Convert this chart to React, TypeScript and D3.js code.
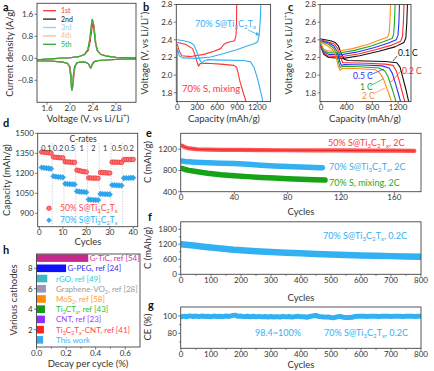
import React from 'react';
import * as d3 from 'd3';

type P = [number, number];
const FONT = 'Lato, "Open Sans", sans-serif';
const AX = '#444';
const TXT = '#333';
const RED = '#ff3333';
const BLUE = '#33b0f2';
const TICK = 8;
const TITLE = 9.5;
const NOTE = 9;

// ---------- panel a: CV data ----------
const cvFirst: P[] = [
  [3.14, -0.02], [2.9, -0.03], [2.7, -0.05], [2.5, -0.08], [2.43, -0.12], [2.4, -0.2], [2.38, -0.28], [2.365, -0.33], [2.35, -0.3], [2.32, -0.2], [2.27, -0.14], [2.2, -0.13], [2.13, -0.16], [2.09, -0.3], [2.07, -0.6], [2.055, -0.95], [2.045, -1.08], [2.035, -1.0], [2.02, -0.6], [2.0, -0.3], [1.96, -0.18], [1.86, -0.13], [1.7, -0.11], [1.55, -0.1], [1.43, -0.09],
  [1.43, -0.06], [1.6, -0.04], [1.8, -0.01], [2.0, 0.02], [2.15, 0.06], [2.26, 0.14], [2.32, 0.3], [2.35, 0.6], [2.38, 1.05], [2.4, 1.27], [2.415, 1.22], [2.43, 0.95], [2.45, 0.55], [2.48, 0.28], [2.54, 0.14], [2.64, 0.08], [2.8, 0.04], [3.0, 0.02], [3.14, 0.02],
];
const cvSecond: P[] = [
  [3.14, -0.02], [2.9, -0.03], [2.7, -0.05], [2.5, -0.08], [2.42, -0.12], [2.39, -0.2], [2.375, -0.29], [2.36, -0.35], [2.345, -0.31], [2.32, -0.2], [2.27, -0.14], [2.2, -0.13], [2.12, -0.16], [2.08, -0.3], [2.06, -0.6], [2.045, -1.0], [2.035, -1.15], [2.025, -1.05], [2.01, -0.6], [1.99, -0.3], [1.95, -0.18], [1.85, -0.13], [1.7, -0.11], [1.55, -0.1], [1.43, -0.09],
  [1.43, -0.05], [1.6, -0.03], [1.8, 0.0], [2.0, 0.02], [2.15, 0.06], [2.25, 0.14], [2.31, 0.3], [2.345, 0.65], [2.37, 1.1], [2.39, 1.32], [2.405, 1.28], [2.42, 1.0], [2.44, 0.6], [2.47, 0.3], [2.53, 0.15], [2.63, 0.08], [2.8, 0.04], [3.0, 0.02], [3.14, 0.02],
];
const cvLater: P[] = [
  [3.14, -0.02], [2.9, -0.03], [2.7, -0.05], [2.5, -0.08], [2.42, -0.12], [2.39, -0.2], [2.375, -0.3], [2.36, -0.36], [2.345, -0.32], [2.32, -0.2], [2.27, -0.14], [2.2, -0.13], [2.12, -0.16], [2.08, -0.3], [2.06, -0.62], [2.045, -1.02], [2.035, -1.17], [2.025, -1.06], [2.01, -0.6], [1.99, -0.3], [1.95, -0.18], [1.85, -0.13], [1.7, -0.11], [1.55, -0.1], [1.43, -0.09],
  [1.43, -0.05], [1.6, -0.03], [1.8, 0.0], [2.0, 0.02], [2.15, 0.06], [2.25, 0.14], [2.31, 0.32], [2.345, 0.72], [2.37, 1.2], [2.385, 1.42], [2.4, 1.35], [2.415, 1.05], [2.44, 0.6], [2.47, 0.3], [2.53, 0.15], [2.63, 0.08], [2.8, 0.04], [3.0, 0.02], [3.14, 0.02],
];
const cvNames = ['1st', '2nd', '3rd', '4th', '5th'];
const cvColors = ['#ff3333', '#222222', '#8fd0ff', '#f2c47a', '#2ea82e'];

// ---------- panel b ----------
const bMixDis: P[] = [[0, 2.37], [120, 2.35], [230, 2.3], [270, 2.22], [300, 2.14], [320, 2.1], [340, 2.13], [450, 2.135], [650, 2.125], [850, 2.11], [890, 2.09], [910, 2.03], [940, 1.93], [990, 1.8], [1040, 1.68]];
const bMixCha: P[] = [[0, 2.35], [30, 2.27], [70, 2.22], [200, 2.21], [400, 2.235], [550, 2.27], [650, 2.3], [700, 2.35], [750, 2.37], [860, 2.39], [882, 2.45], [888, 2.6], [892, 2.82]];
const bTiDis: P[] = [[0, 2.4], [100, 2.39], [200, 2.37], [250, 2.34], [300, 2.25], [340, 2.17], [375, 2.13], [395, 2.16], [450, 2.175], [700, 2.17], [1000, 2.165], [1100, 2.15], [1150, 2.09], [1200, 1.97], [1240, 1.85], [1270, 1.75], [1285, 1.68]];
const bTiCha: P[] = [[0, 1.68], [0, 2.3], [30, 2.22], [80, 2.195], [300, 2.19], [500, 2.205], [700, 2.245], [900, 2.29], [1050, 2.33], [1150, 2.355], [1205, 2.375], [1228, 2.45], [1243, 2.6], [1255, 2.82]];

// ---------- panel c ----------
const cRates = ['0.1 C', '0.2 C', '0.5 C', '1 C', '2 C'];
const cColors = ['#111111', '#ff2a2a', '#2233ff', '#1fa81f', '#ff8c1a'];
const cDis: P[][] = [
  [[0, 2.41], [150, 2.39], [220, 2.37], [270, 2.33], [320, 2.24], [360, 2.18], [420, 2.165], [700, 2.16], [1000, 2.155], [1180, 2.14], [1230, 2.09], [1270, 1.98], [1320, 1.84], [1370, 1.68]],
  [[0, 2.4], [140, 2.37], [210, 2.35], [260, 2.3], [305, 2.2], [340, 2.14], [400, 2.14], [700, 2.135], [1000, 2.125], [1120, 2.11], [1170, 2.05], [1220, 1.93], [1260, 1.82], [1310, 1.68]],
  [[0, 2.39], [130, 2.36], [200, 2.33], [250, 2.27], [290, 2.16], [315, 2.11], [360, 2.12], [650, 2.115], [950, 2.105], [1060, 2.08], [1110, 2.02], [1160, 1.9], [1200, 1.8], [1245, 1.68]],
  [[0, 2.38], [120, 2.35], [190, 2.31], [240, 2.25], [280, 2.13], [300, 2.085], [340, 2.1], [600, 2.095], [900, 2.08], [990, 2.05], [1040, 1.99], [1090, 1.88], [1130, 1.79], [1175, 1.68]],
  [[0, 2.37], [110, 2.33], [180, 2.29], [230, 2.22], [270, 2.1], [295, 2.055], [330, 2.075], [550, 2.075], [850, 2.06], [920, 2.02], [970, 1.96], [1020, 1.86], [1060, 1.78], [1105, 1.68]],
];
const cCha: P[][] = [
  [[0, 2.32], [40, 2.24], [120, 2.2], [350, 2.19], [600, 2.22], [900, 2.27], [1150, 2.32], [1290, 2.37], [1320, 2.42], [1335, 2.6], [1345, 2.82]],
  [[0, 2.33], [40, 2.25], [120, 2.215], [330, 2.21], [580, 2.24], [860, 2.29], [1100, 2.34], [1240, 2.385], [1268, 2.44], [1282, 2.6], [1292, 2.82]],
  [[0, 2.34], [40, 2.265], [120, 2.235], [310, 2.23], [550, 2.26], [820, 2.31], [1040, 2.36], [1170, 2.4], [1198, 2.45], [1212, 2.6], [1222, 2.82]],
  [[0, 2.35], [40, 2.28], [110, 2.255], [290, 2.25], [520, 2.28], [780, 2.33], [980, 2.38], [1105, 2.415], [1130, 2.46], [1143, 2.6], [1153, 2.82]],
  [[0, 2.36], [40, 2.295], [100, 2.275], [270, 2.27], [490, 2.3], [740, 2.35], [920, 2.4], [1035, 2.43], [1060, 2.48], [1072, 2.6], [1082, 2.82]],
];

// ---------- panel d ----------
const dCycles = d3.range(1, 41);
const dRateLabels = ['0.1', '0.2', '0.5', '1', '2', '1', '0.5', '0.2'];
const dHigh = [1360, 1358, 1356, 1354, 1352, 1322, 1320, 1318, 1317, 1316, 1286, 1285, 1284, 1283, 1282, 1224, 1220, 1216, 1213, 1210, 1166, 1165, 1164, 1164, 1163, 1206, 1205, 1204, 1203, 1202, 1284, 1284, 1283, 1283, 1282, 1302, 1303, 1303, 1304, 1304];
const dLow = [1244, 1241, 1239, 1237, 1235, 1178, 1175, 1173, 1172, 1170, 1122, 1120, 1119, 1118, 1117, 1066, 1063, 1061, 1060, 1058, 1004, 1002, 1001, 1000, 1000, 1046, 1045, 1044, 1043, 1042, 1112, 1111, 1110, 1109, 1108, 1164, 1165, 1165, 1166, 1166];

// ---------- panel e ----------
const eRedX = [1, 2, 3, 5, 8, 12, 20, 30, 45, 60, 80, 100, 120, 140, 160, 175];
const eRedY = [1265, 1250, 1236, 1222, 1210, 1200, 1193, 1189, 1186, 1183, 1181, 1179, 1177, 1175, 1172, 1168];
const eBlueX = [1, 3, 6, 10, 20, 30, 40, 50, 60, 70, 80, 90, 100, 106];
const eBlueY = [978, 970, 962, 956, 946, 938, 932, 916, 900, 886, 873, 863, 856, 851];
const eGreenX = [1, 3, 6, 10, 15, 20, 30, 40, 50, 60, 70, 80, 90, 100, 108];
const eGreenY = [838, 818, 802, 786, 766, 749, 721, 701, 684, 669, 656, 646, 636, 627, 619];

// ---------- panel f ----------
const fX = [0, 25, 50, 75, 100, 125, 150, 175, 200, 250, 300, 350, 400, 450, 500, 550, 600, 650, 700, 750, 800];
const fY = [1205, 1175, 1140, 1105, 1075, 1045, 1015, 985, 962, 926, 896, 864, 838, 814, 792, 772, 756, 741, 727, 713, 702];

// ---------- panel g ----------
const gX = d3.range(0, 801, 10);
const gY = [99.0, 99.8, 99.2, 100.1, 99.4, 99.9, 99.3, 100.0, 99.5, 99.7, 99.2, 99.9, 99.4, 99.8, 99.3, 100.0, 99.5, 100.4, 101.0, 99.6, 99.9, 99.3, 99.8, 99.2, 99.7, 99.1, 99.6, 99.0, 99.5, 98.9, 99.4, 98.8, 99.3, 98.9, 99.6, 99.0, 99.4, 98.7, 99.3, 99.8, 99.0, 99.2, 98.6, 99.5, 100.2, 100.6, 99.4, 99.1, 98.7, 99.0, 98.3, 98.1, 99.0, 99.6, 98.6, 98.2, 98.4, 98.5, 99.4, 99.7, 99.6, 99.8, 99.5, 99.7, 99.6, 99.8, 99.5, 99.7, 99.6, 99.8, 99.5, 99.7, 99.6, 99.8, 99.5, 99.7, 99.6, 99.8, 99.5, 99.7, 99.6];

// ---------- panel h ----------
const hNames = ['This work', 'Ti_3C_2T_x-CNT, ref [41]', 'CNT, ref [23]', 'Ti_2CT_x, ref [43]', 'MoS_2, ref [58]', 'Graphene-VO_2, ref [28]', 'rGO, ref [49]', 'G-PEG, ref [24]', 'G-TiC, ref [54]'];
const hValues = [0.045, 0.05, 0.057, 0.057, 0.063, 0.064, 0.073, 0.2, 0.35];
const hBarColors = ['#3aaaf0', '#ff2020', '#9030ff', '#129a12', '#ff8a10', '#9898b8', '#3cb8c8', '#1010ff', '#c8288c'];
const hTextColors = ['#4ab4f4', '#ff4a4a', '#9a40ff', '#30c030', '#ff9a30', '#9c9c9c', '#30c8d0', '#3030ff', '#cc3399'];

// ---------- helpers ----------
function RT(props: { t: string; x: number; y: number; fill?: string; size?: number; anchor?: string; rotate?: number; weight?: string }) {
  const { t, x, y, fill = TXT, size = 10, anchor = 'start', rotate, weight } = props;
  const segs: { s: string; k: number }[] = [];
  let buf = '';
  for (let i = 0; i < t.length; i++) {
    const c = t[i];
    if ((c === '_' || c === '^') && i + 1 < t.length) {
      if (buf) segs.push({ s: buf, k: 0 });
      buf = '';
      segs.push({ s: t[i + 1], k: c === '_' ? 1 : 2 });
      i++;
    } else buf += c;
  }
  if (buf) segs.push({ s: buf, k: 0 });
  let cur = 0;
  return (
    <text x={x} y={y} fill={fill} fontSize={size} textAnchor={anchor} fontFamily={FONT} fontWeight={weight}
      transform={rotate ? `rotate(${rotate},${x},${y})` : undefined}>
      {segs.map((sg, j) => {
        const target = sg.k === 1 ? size * 0.25 : sg.k === 2 ? -size * 0.38 : 0;
        const dy = target - cur;
        cur = target;
        return <tspan key={j} dy={dy} fontSize={sg.k ? size * 0.68 : size}>{sg.s}</tspan>;
      })}
    </text>
  );
}

function Box({ x0, x1, y0, y1 }: { x0: number; x1: number; y0: number; y1: number }) {
  return <rect x={x0} y={y0} width={x1 - x0} height={y1 - y0} fill="none" stroke={AX} strokeWidth={0.9} />;
}

function XTicks({ sc, y, ticks, fmt, minor }: any) {
  return (
    <g>
      {(minor || []).map((v: number, i: number) => (
        <line key={'m' + i} x1={sc(v)} x2={sc(v)} y1={y} y2={y + 1.6} stroke={AX} strokeWidth={0.7} />
      ))}
      {ticks.map((v: number, i: number) => (
        <g key={i}>
          <line x1={sc(v)} x2={sc(v)} y1={y} y2={y + 2.5} stroke={AX} strokeWidth={0.7} />
          <text x={sc(v)} y={y + 8.6} fontSize={TICK} textAnchor="middle" fill={TXT} fontFamily={FONT}>{fmt ? fmt(v) : String(v)}</text>
        </g>
      ))}
    </g>
  );
}

function YTicks({ sc, x, ticks, fmt, minor }: any) {
  return (
    <g>
      {(minor || []).map((v: number, i: number) => (
        <line key={'m' + i} x1={x - 1.6} x2={x} y1={sc(v)} y2={sc(v)} stroke={AX} strokeWidth={0.7} />
      ))}
      {ticks.map((v: number, i: number) => (
        <g key={i}>
          <line x1={x - 2.5} x2={x} y1={sc(v)} y2={sc(v)} stroke={AX} strokeWidth={0.7} />
          <text x={x - 3.8} y={sc(v) + 2.9} fontSize={TICK} textAnchor="end" fill={TXT} fontFamily={FONT}>{fmt ? fmt(v) : String(v)}</text>
        </g>
      ))}
    </g>
  );
}

function Curve({ pts, xs, ys, stroke, sw = 1.1, clip }: any) {
  const g = d3.line<P>().x((d) => xs(d[0])).y((d) => ys(d[1]));
  return <path d={g(pts) || ''} fill="none" stroke={stroke} strokeWidth={sw} strokeLinejoin="round" strokeLinecap="round" clipPath={clip ? `url(#${clip})` : undefined} />;
}

function Clip({ id, x0, x1, y0, y1 }: any) {
  return <clipPath id={id}><rect x={x0} y={y0} width={x1 - x0} height={y1 - y0} /></clipPath>;
}

function Label({ t, x, y }: { t: string; x: number; y: number }) {
  return <text x={x} y={y} fontSize={11} fontWeight="bold" fill="#111" fontFamily={FONT}>{t}</text>;
}

export default function App() {
  const ax = d3.scaleLinear().domain([1.426, 3.148]).range([37, 136]);
  const ay = d3.scaleLinear().domain([-1.6, 2.0]).range([102.3, 3.3]);
  const bx = d3.scaleLinear().domain([-15, 1400]).range([176.3, 270.6]);
  const by = d3.scaleLinear().domain([1.7, 2.8]).range([101.6, 4.5]);
  const cx = d3.scaleLinear().domain([-15, 1400]).range([320, 411]);
  const cy = by;
  const dx = d3.scaleLinear().domain([-0.7, 41.9]).range([37.7, 137.7]);
  const dy = d3.scaleLinear().domain([800, 1500]).range([226.7, 133.3]);
  const ex = d3.scaleLinear().domain([0, 180]).range([181, 421]);
  const ey = d3.scaleLinear().domain([400, 1500]).range([191.7, 133.3]);
  const fx = d3.scaleLinear().domain([0, 800]).range([181, 421]);
  const fy = d3.scaleLinear().domain([0, 2100]).range([274.3, 221.8]);
  const gx = fx;
  const gy = d3.scaleLinear().domain([62.7, 110.4]).range([348.3, 307]);
  const hx = d3.scaleLinear().domain([0, 0.7]).range([36.5, 140]);
  const hy = d3.scaleLinear().domain([0.3, 9.4]).range([347, 254]);

  const A = { x0: ax.range()[0], x1: ax.range()[1], y0: ay.range()[1], y1: ay.range()[0] };
  const B = { x0: bx.range()[0], x1: bx.range()[1], y0: by.range()[1], y1: by.range()[0] };
  const C = { x0: cx.range()[0], x1: cx.range()[1], y0: cy.range()[1], y1: cy.range()[0] };
  const D = { x0: dx.range()[0], x1: dx.range()[1], y0: dy.range()[1], y1: dy.range()[0] };
  const E = { x0: 180.7, x1: 421, y0: ey.range()[1], y1: ey.range()[0] };
  const F = { x0: 180.7, x1: 421, y0: fy.range()[1], y1: fy.range()[0] };
  const G = { x0: 180.7, x1: 421, y0: gy.range()[1], y1: gy.range()[0] };
  const Hb = { x0: hx.range()[0], x1: hx.range()[1], y0: hy.range()[1], y1: hy.range()[0] };

  const cvSets = [cvFirst, cvSecond, cvLater, cvLater, cvLater];
  const f1 = d3.format('.1f');
  const zip = (xs: number[], ys: number[]): P[] => xs.map((v, i) => [v, ys[i]]);
  const diamond = (x: number, y: number, r: number) => `M${x},${y - r}L${x + r},${y}L${x},${y + r}L${x - r},${y}Z`;

  return (
    <svg width={434} height={371} style={{ position: 'absolute', left: 0, top: 0, background: '#fff' }} fontFamily={FONT}>
      <defs>
        <Clip id="ca" {...A} />
        <Clip id="cb" {...B} />
        <Clip id="cc" {...C} />
        <Clip id="ce" {...E} />
        <Clip id="cf" {...F} />
        <Clip id="cg" {...G} />
        <marker id="arrB" viewBox="0 0 6 6" refX="5" refY="3" markerWidth="5" markerHeight="5" orient="auto">
          <path d="M0,0L6,3L0,6Z" fill={BLUE} />
        </marker>
      </defs>
      <rect x={0} y={0} width={434} height={371} fill="#fff" />

      {/* ---------------- a ---------------- */}
      <Label t="a" x={3} y={11} />
      {cvSets.map((pts, i) => (
        <Curve key={i} pts={pts} xs={ax} ys={ay} stroke={cvColors[i]} sw={1.1} clip="ca" />
      ))}
      <Box {...A} />
      <XTicks sc={ax} y={A.y1} ticks={[1.6, 2.0, 2.4, 2.8]} fmt={f1} />
      <YTicks sc={ay} x={A.x0} ticks={[-0.8, 0, 0.8, 1.6]} fmt={f1} />
      {cvNames.map((n, i) => (
        <g key={n}>
          <line x1={43} x2={56} y1={10.7 + i * 8.4} y2={10.7 + i * 8.4} stroke={cvColors[i]} strokeWidth={1.3} />
          <text x={61} y={13.2 + i * 8.4} fontSize={7} fill={i === 1 ? '#222' : cvColors[i]} fontFamily={FONT}>{n}</text>
        </g>
      ))}
      <RT t="Current density (A/g)" x={13} y={53} rotate={-90} anchor="middle" size={TITLE} />
      <RT t="Voltage (V, vs Li/Li^+)" x={88} y={121.5} anchor="middle" size={TITLE} />

      {/* ---------------- b ---------------- */}
      <Label t="b" x={143} y={11} />
      <Curve pts={bMixDis} xs={bx} ys={by} stroke={RED} clip="cb" />
      <Curve pts={bMixCha} xs={bx} ys={by} stroke={RED} clip="cb" />
      <Curve pts={bTiDis} xs={bx} ys={by} stroke={BLUE} clip="cb" />
      <Curve pts={bTiCha} xs={bx} ys={by} stroke={BLUE} clip="cb" />
      <Box {...B} />
      <XTicks sc={bx} y={B.y1} ticks={[0, 300, 600, 900, 1200]} />
      <YTicks sc={by} x={B.x0} ticks={[1.8, 2.0, 2.2, 2.4, 2.6, 2.8]} fmt={f1} />
      <RT t="70% S@Ti_3C_2T_x" x={195} y={27} fill={BLUE} size={NOTE} />
      <line x1={248} y1={30} x2={259} y2={35} stroke={BLUE} strokeWidth={0.8} markerEnd="url(#arrB)" />
      <RT t="70% S, mixing" x={182} y={92} fill={RED} size={NOTE + 0.5} />
      <RT t="Voltage (V, vs Li/Li^+)" x={148} y={53} rotate={-90} anchor="middle" size={TITLE} />
      <RT t="Capacity (mAh/g)" x={224} y={121.5} anchor="middle" size={TITLE} />

      {/* ---------------- c ---------------- */}
      <Label t="c" x={288} y={11} />
      {cRates.map((r, i) => (
        <g key={r}>
          <Curve pts={cDis[i]} xs={cx} ys={cy} stroke={cColors[i]} clip="cc" />
          <Curve pts={cCha[i]} xs={cx} ys={cy} stroke={cColors[i]} clip="cc" />
        </g>
      ))}
      <Box {...C} />
      <XTicks sc={cx} y={C.y1} ticks={[0, 400, 800, 1200]} />
      <YTicks sc={cy} x={C.x0} ticks={[1.8, 2.0, 2.2, 2.4, 2.6, 2.8]} fmt={f1} />
      <line x1={397} y1={56} x2={393} y2={61} stroke={cColors[0]} strokeWidth={0.7} />
      <text x={398} y={56} fontSize={8.5} fill={cColors[0]} fontFamily={FONT}>0.1 C</text>
      <line x1={401} y1={71} x2={391} y2={82} stroke={cColors[1]} strokeWidth={0.7} />
      <text x={402} y={74} fontSize={8.5} fill={cColors[1]} fontFamily={FONT}>0.2 C</text>
      <line x1={370} y1={75} x2={384} y2={69} stroke={cColors[2]} strokeWidth={0.7} />
      <text x={353} y={79} fontSize={8.5} fill={cColors[2]} fontFamily={FONT}>0.5 C</text>
      <line x1={370} y1={86} x2={383} y2={79} stroke={cColors[3]} strokeWidth={0.7} />
      <text x={360} y={90} fontSize={8.5} fill={cColors[3]} fontFamily={FONT}>1 C</text>
      <line x1={373} y1={94} x2={385} y2={88} stroke={cColors[4]} strokeWidth={0.7} />
      <text x={362} y={99} fontSize={8.5} fill={cColors[4]} fontFamily={FONT}>2 C</text>
      <RT t="Voltage (V, vs Li/Li^+)" x={292} y={53} rotate={-90} anchor="middle" size={TITLE} />
      <RT t="Capacity (mAh/g)" x={365} y={121.5} anchor="middle" size={TITLE} />

      {/* ---------------- d ---------------- */}
      <Label t="d" x={3} y={127} />
      {d3.range(5.5, 40, 5).map((v) => (
        <line key={v} x1={dx(v)} x2={dx(v)} y1={D.y0 + 10} y2={D.y1} stroke="#aaa" strokeWidth={0.7} strokeDasharray="1,1.5" />
      ))}
      {dCycles.map((c, i) => (
        <path key={'b' + c} d={diamond(dx(c), dy(dLow[i]), 2.8)} fill="#2fa8f0" stroke="#1a90e0" strokeWidth={0.4} />
      ))}
      {dCycles.map((c, i) => (
        <circle key={'r' + c} cx={dx(c)} cy={dy(dHigh[i])} r={2.3} fill="#ff7575" stroke="#e82020" strokeWidth={0.6} />
      ))}
      <Box {...D} />
      <XTicks sc={dx} y={D.y1} ticks={[0, 10, 20, 30, 40]} />
      <YTicks sc={dy} x={D.x0} ticks={[900, 1050, 1200, 1350, 1500]} />
      <text x={83} y={142} fontSize={8.5} textAnchor="middle" fill={TXT} fontFamily={FONT}>C-rates</text>
      {dRateLabels.map((l, i) => (
        <text key={i} x={dx(3 + i * 5)} y={150.5} fontSize={7.4} textAnchor="middle" fill={TXT} fontFamily={FONT}>{l}</text>
      ))}
      <circle cx={49} cy={208.3} r={2.3} fill="#ff7575" stroke="#e82020" strokeWidth={0.6} />
      <RT t="50% S@Ti_3C_2T_x" x={60} y={211.2} fill="#ff4a4a" size={8.5} />
      <path d={diamond(49, 220.3, 2.8)} fill="#2fa8f0" />
      <RT t="70% S@Ti_3C_2T_x" x={60} y={223.2} fill={BLUE} size={8.5} />
      <RT t="Capacity (mAh/g)" x={10} y={180} rotate={-90} anchor="middle" size={TITLE} />
      <RT t="Cycles" x={88} y={245} anchor="middle" size={TITLE} />

      {/* ---------------- e ---------------- */}
      <Label t="e" x={146} y={137} />
      <Curve pts={zip(eRedX, eRedY)} xs={ex} ys={ey} stroke="#ff5555" sw={4.2} clip="ce" />
      <Curve pts={zip(eRedX, eRedY)} xs={ex} ys={ey} stroke="#e81818" sw={0.8} clip="ce" />
      <Curve pts={zip(eBlueX, eBlueY)} xs={ex} ys={ey} stroke={BLUE} sw={5.5} clip="ce" />
      <Curve pts={zip(eGreenX, eGreenY)} xs={ex} ys={ey} stroke="#17a317" sw={5.5} clip="ce" />
      <Box {...E} />
      <XTicks sc={ex} y={E.y1} ticks={[0, 40, 80, 120, 160]} />
      <YTicks sc={ey} x={E.x0} ticks={[400, 800, 1200]} />
      <RT t="50% S@Ti_3C_2T_x, 2C" x={328} y={146} fill="#ff3a3a" size={NOTE} />
      <RT t="70% S@Ti_3C_2T_x, 2C" x={329} y={170} fill={BLUE} size={NOTE} />
      <RT t="70% S, mixing, 2C" x={329} y={186} fill="#22aa22" size={NOTE} />
      <RT t="C (mAh/g)" x={151} y={162} rotate={-90} anchor="middle" size={TITLE} />
      <RT t="Cycles" x={301} y={214.5} anchor="middle" size={TITLE} />

      {/* ---------------- f ---------------- */}
      <Label t="f" x={148} y={221} />
      <Curve pts={zip(fX, fY)} xs={fx} ys={fy} stroke={BLUE} sw={6.5} clip="cf" />
      <Box {...F} />
      <XTicks sc={fx} y={F.y1} ticks={d3.range(0, 801, 100)} minor={d3.range(50, 800, 100)} />
      <YTicks sc={fy} x={F.x0} ticks={[0, 600, 1200, 1800]} minor={[300, 900, 1500]} />
      <RT t="70% S@Ti_3C_2T_x, 0.2C" x={323} y={239} fill={BLUE} size={NOTE} />
      <RT t="C (mAh/g)" x={151} y={248} rotate={-90} anchor="middle" size={TITLE} />
      <RT t="Cycles" x={301} y={301} anchor="middle" size={TITLE} />

      {/* ---------------- g ---------------- */}
      <Label t="g" x={148} y={309} />
      <Curve pts={zip(gX, gY)} xs={gx} ys={gy} stroke={BLUE} sw={5} clip="cg" />
      <Box {...G} />
      <XTicks sc={gx} y={G.y1} ticks={d3.range(0, 801, 100)} minor={d3.range(50, 800, 100)} />
      <YTicks sc={gy} x={G.x0} ticks={[80, 100]} minor={[70, 90]} />
      <RT t="98.4~100%" x={255} y={336} fill={BLUE} size={NOTE} />
      <RT t="70% S@Ti_3C_2T_x, 0.2C" x={324} y={336} fill={BLUE} size={NOTE} />
      <RT t="CE (%)" x={151} y={327} rotate={-90} anchor="middle" size={TITLE} />
      <RT t="Cycles" x={301} y={367.5} anchor="middle" size={TITLE} />

      {/* ---------------- h ---------------- */}
      <Label t="h" x={3} y={254} />
      {hValues.map((v, i) => (
        <rect key={i} x={hx(0)} y={hy(i + 1) - 3.8} width={hx(v) - hx(0)} height={7.6} fill={hBarColors[i]} />
      ))}
      {hNames.map((n, i) => (
        <RT key={n} t={n} x={Math.max(hx(hValues[i]) + 1.5, 56)} y={hy(i + 1) + 3} fill={hTextColors[i]} size={8} />
      ))}
      <Box {...Hb} />
      <XTicks sc={hx} y={Hb.y1} ticks={[0, 0.2, 0.4, 0.6]} fmt={f1} minor={[0.1, 0.3, 0.5]} />
      <YTicks sc={hy} x={Hb.x0} ticks={[2, 4, 6, 8]} />
      <RT t="Various cathodes" x={17} y={300} rotate={-90} anchor="middle" size={TITLE} />
      <RT t="Decay per cycle (%)" x={88} y={367} anchor="middle" size={TITLE} />
    </svg>
  );
}
